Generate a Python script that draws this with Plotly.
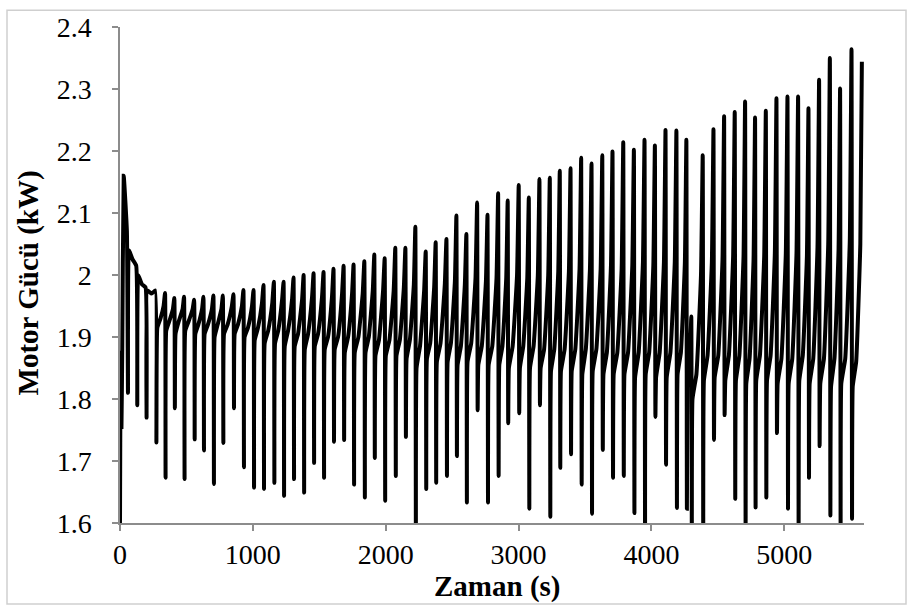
import plotly.graph_objects as go

# ---- data ----
# start-up transient (time s, power kW)
startup_t = [0, 5, 11, 17, 28, 52, 60, 67, 95, 122, 130, 137, 165, 192, 200, 207, 238, 266, 274, 281, 305, 328]
startup_v = [1.60, 1.875, 1.755, 1.88, 2.16, 2.07, 1.81, 2.04, 2.025, 2.015, 1.79, 2.0, 1.985, 1.98, 1.77,
             1.975, 1.97, 1.975, 1.73, 1.915, 1.93, 1.95]

# regular cycles: peak time, peak value
peak_t = [339, 409, 482, 558, 628, 703, 774, 854, 929, 1005, 1080, 1158, 1231, 1306, 1382, 1457, 1532,
          1607, 1683, 1758, 1839, 1914, 1992, 2072, 2148, 2223, 2301, 2376, 2457, 2532, 2607, 2688, 2766,
          2846, 2918, 3001, 3077, 3157, 3235, 3310, 3391, 3471, 3549, 3630, 3707, 3788, 3868, 3948, 4026,
          4106, 4188, 4263, 4300, 4386, 4467, 4547, 4627, 4705, 4780, 4861, 4941, 5024, 5104, 5182, 5262,
          5343, 5420, 5506, 5584]
peak_v = [1.971, 1.963, 1.965, 1.960, 1.965, 1.967, 1.967, 1.969, 1.976, 1.976, 1.984, 1.989, 1.989, 1.996,
          2.000, 2.003, 2.005, 2.010, 2.015, 2.017, 2.022, 2.033, 2.027, 2.044, 2.044, 2.078, 2.038, 2.053,
          2.058, 2.096, 2.066, 2.117, 2.097, 2.132, 2.120, 2.145, 2.125, 2.155, 2.157, 2.168, 2.172, 2.189,
          2.180, 2.193, 2.199, 2.214, 2.202, 2.218, 2.209, 2.234, 2.233, 2.218, 1.933, 2.193, 2.235, 2.256,
          2.263, 2.280, 2.254, 2.265, 2.285, 2.288, 2.288, 2.269, 2.315, 2.350, 2.301, 2.364, 2.344]
# minimum reached right after each peak
trough_v = [1.673, 1.785, 1.671, 1.735, 1.717, 1.663, 1.729, 1.785, 1.690, 1.657, 1.655, 1.665, 1.644,
            1.671, 1.649, 1.697, 1.673, 1.731, 1.734, 1.662, 1.641, 1.705, 1.636, 1.676, 1.739, 1.58,
            1.655, 1.665, 1.676, 1.708, 1.633, 1.782, 1.633, 1.676, 1.761, 1.777, 1.623, 1.790, 1.610,
            1.689, 1.711, 1.662, 1.615, 1.718, 1.673, 1.676, 1.616, 1.58, 1.771, 1.694, 1.624, 1.623,
            1.58, 1.58, 1.734, 1.774, 1.639, 1.58, 1.625, 1.641, 1.745, 1.623, 1.58, 1.673, 1.724,
            1.612, 1.58, 1.607]
# level the line returns to after each minimum
base_v = [1.91, 1.905, 1.91, 1.905, 1.905, 1.90, 1.905, 1.905, 1.90,
          1.895, 1.89, 1.89, 1.885, 1.885, 1.88, 1.885, 1.88, 1.88, 1.875, 1.875, 1.875, 1.87, 1.87,
          1.87, 1.865, 1.85, 1.865, 1.86, 1.86, 1.855, 1.86, 1.855, 1.855,
          1.855, 1.85, 1.85, 1.85, 1.85, 1.845, 1.845, 1.845, 1.84, 1.845, 1.84, 1.84, 1.84, 1.835,
          1.84, 1.835, 1.835, 1.84, 1.835,
          1.80,
          1.83, 1.835, 1.83, 1.83, 1.825, 1.83, 1.83, 1.825, 1.825, 1.83, 1.825, 1.825, 1.82, 1.825, 1.82]
# level midway along the rising part
mid_v = [1.925, 1.925, 1.925, 1.92, 1.92, 1.92, 1.92, 1.92, 1.915,
         1.915, 1.91, 1.91, 1.91, 1.905, 1.905, 1.905, 1.90, 1.90, 1.90, 1.90, 1.90, 1.895, 1.895,
         1.895, 1.895, 1.885, 1.89, 1.89, 1.89, 1.885, 1.89, 1.885, 1.885,
         1.885, 1.885, 1.885, 1.885, 1.88, 1.88, 1.88, 1.88, 1.88, 1.88, 1.875, 1.875, 1.875, 1.875,
         1.875, 1.875, 1.875, 1.875, 1.87,
         1.84,
         1.87, 1.87, 1.87, 1.87, 1.865, 1.87, 1.87, 1.865, 1.865, 1.87, 1.865, 1.865, 1.865, 1.865, 1.86]
# level just before the steep rise to the next peak
knee_v = [1.945, 1.945, 1.945, 1.945, 1.945, 1.945, 1.95, 1.95, 1.95,
          1.955, 1.955, 1.96, 1.96, 1.96, 1.965, 1.965, 1.965, 1.97, 1.97, 1.97, 1.975, 1.975, 1.975,
          1.98, 1.985, 1.975, 1.98, 1.985, 1.99, 1.985, 1.995, 1.99, 1.995,
          1.995, 2.0, 1.995, 2.0, 2.0, 2.005, 2.005, 2.01, 2.01, 2.01, 2.015, 2.01, 2.015, 2.02,
          2.015, 2.02, 2.02, 2.02,
          1.90,
          2.0,
          2.02, 2.025, 2.03, 2.03, 2.025, 2.03, 2.035, 2.035, 2.035, 2.03, 2.045, 2.05, 2.04, 2.055, 2.05]

x_ticks = [0, 1000, 2000, 3000, 4000, 5000]
y_ticks = [1.6, 1.7, 1.8, 1.9, 2.0, 2.1, 2.2, 2.3, 2.4]
y_ticktext = ["1.6", "1.7", "1.8", "1.9", "2", "2.1", "2.2", "2.3", "2.4"]

# ---- assemble the polyline ----
xs = list(startup_t)
ys = list(startup_v)
n = len(trough_v)
for i in range(len(peak_t)):
    xs.append(peak_t[i]); ys.append(peak_v[i])
    if i < n and i + 1 < len(peak_t):
        gap = peak_t[i + 1] - peak_t[i]
        xs += [peak_t[i] + 4, peak_t[i] + 9, peak_t[i] + 0.45 * gap, peak_t[i] + 0.85 * gap]
        ys += [trough_v[i], base_v[i], mid_v[i], knee_v[i]]

fig = go.Figure()
fig.add_trace(go.Scatter(x=xs, y=ys, mode="lines",
                         line=dict(color="black", width=4, shape="spline", smoothing=0.35),
                         hoverinfo="skip"))

FONT = "Liberation Serif"
AX = "#8c8c8c"

fig.update_layout(
    width=910, height=607,
    margin=dict(l=120, r=46, t=21, b=84),
    paper_bgcolor="white", plot_bgcolor="white",
    showlegend=False,
    font=dict(family=FONT, color="black"),
    xaxis=dict(range=[0, 5600], tickvals=x_ticks, ticks="outside", ticklen=6, tickwidth=1.5,
               tickcolor=AX, showline=True, linecolor=AX, linewidth=1.5, showgrid=False,
               zeroline=False, tickfont=dict(size=28, family=FONT, color="black"), fixedrange=True),
    yaxis=dict(range=[1.6, 2.4], tickvals=y_ticks, ticktext=y_ticktext, ticks="outside", ticklen=6,
               tickwidth=1.5, tickcolor=AX, showline=True, linecolor=AX, linewidth=1.5,
               showgrid=False, zeroline=False, tickfont=dict(size=28, family=FONT, color="black"),
               ticklabelstandoff=15, fixedrange=True),
)

fig.add_annotation(text="<b>Zaman (s)</b>", xref="paper", yref="paper", x=0.507, y=-0.128,
                   xanchor="center", yanchor="middle", showarrow=False,
                   font=dict(size=29, family=FONT, color="black"))
fig.add_annotation(text="<b>Motor Gücü (kW)</b>", xref="paper", yref="paper", x=-0.123, y=0.484,
                   xanchor="center", yanchor="middle", textangle=-90, showarrow=False,
                   font=dict(size=29, family=FONT, color="black"))

# chart-area border
fig.add_shape(type="rect", xref="paper", yref="paper",
              x0=(7 - 120) / 744, x1=(906 - 120) / 744, y0=(523 - 605) / 502, y1=(523 - 4) / 502,
              line=dict(color="#cfcfcf", width=1.5), fillcolor="rgba(0,0,0,0)", layer="below")

fig.write_html("out.html")
